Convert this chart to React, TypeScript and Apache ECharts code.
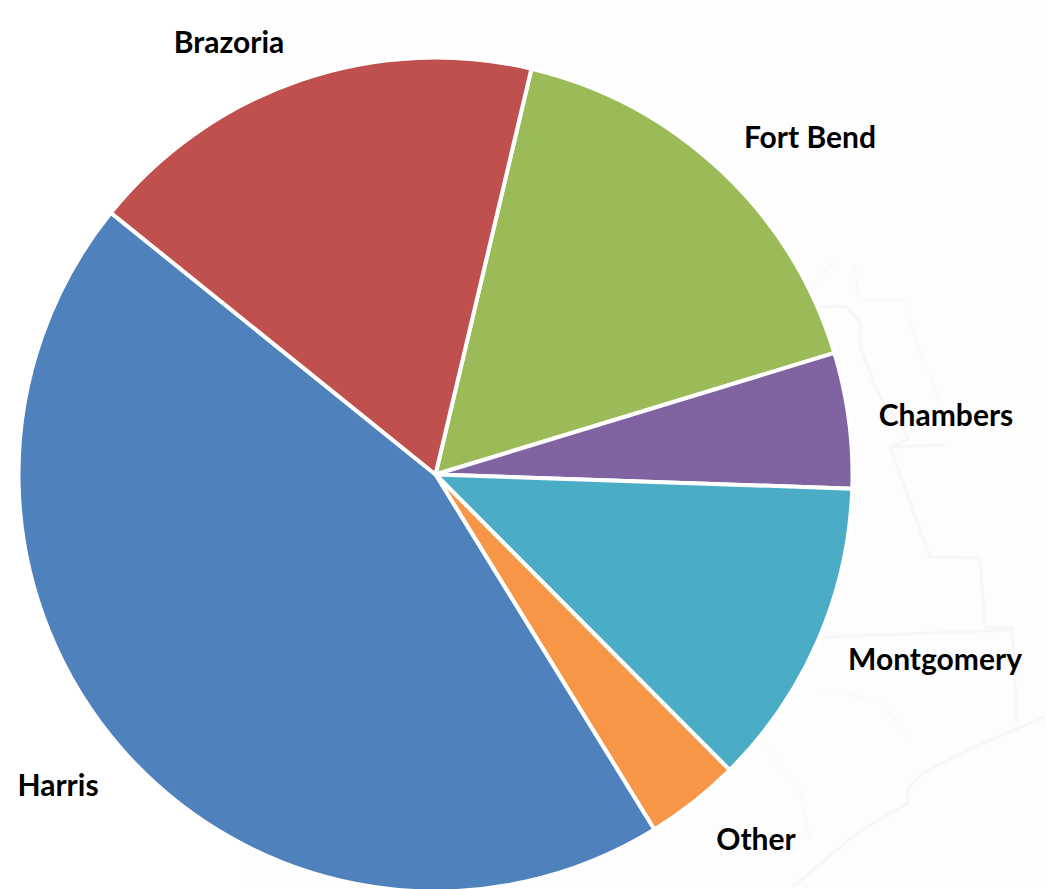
import React, { useEffect, useRef } from "react";
import * as echarts from "echarts";

const categories = ["Fort Bend", "Chambers", "Montgomery", "Other", "Harris", "Brazoria"];
const shares = [16.6, 5.25, 12.0, 3.67, 44.6, 17.9];
const colors = ["#9BBB59", "#8064A2", "#4BACC6", "#F79646", "#4F81BD", "#C0504D"];
const labelCentres = [
  [810, 136],
  [946, 414],
  [935, 658],
  [756, 838],
  [58, 784],
  [229, 41],
];
const mapLines = [
  [[820,308],[830,306],[847,307],[860,323],[860,347],[873,380],[880,397],[903,427],[908,440],[890,447],[930,557],[980,558],[983,600],[985,627],[1012,628],[1017,723]],
  [[890,447],[945,445]],
  [[823,637],[1012,630]],
  [[1045,717],[983,743],[923,773],[907,790],[908,803],[857,833],[793,887]],
];
const faintLines = [
  [[837,257],[810,290]],
  [[855,265],[858,300],[905,300],[915,340],[940,400]],
  [[760,740],[800,790],[810,840]],
  [[820,690],[880,700],[910,740]],
];

export default function App() {
  const ref = useRef<HTMLDivElement>(null);
  useEffect(() => {
    const chart = echarts.init(ref.current!, undefined, { renderer: "svg" });
    chart.setOption({
      animation: false,
      backgroundColor: "#ffffff",
      graphic: [
        { type: "rect", z: -3, silent: true, shape: { x: 240, y: 0, width: 805, height: 889 }, style: { fill: "#fdfdfd" } },
        ...faintLines.map((points) => ({
          type: "polyline",
          z: -2,
          silent: true,
          shape: { points },
          style: { stroke: "#fafafa", lineWidth: 2, fill: "none" },
        })),
        ...mapLines.map((points) => ({
          type: "polyline",
          z: -1,
          silent: true,
          shape: { points },
          style: { stroke: "#f7f7f7", lineWidth: 3, fill: "none" },
        })),
      ],
      series: [
        {
          type: "pie",
          center: [435.5, 474.5],
          radius: [0, 417],
          startAngle: 76.7,
          clockwise: true,
          avoidLabelOverlap: false,
          silent: true,
          data: categories.map((name, i) => ({
            name,
            value: shares[i],
            itemStyle: { color: colors[i] },
          })),
          itemStyle: { borderColor: "#ffffff", borderWidth: 4 },
          label: {
            show: true,
            position: "outside",
            formatter: "{b}",
            color: "#000000",
            fontFamily: "Lato",
            fontWeight: "bold",
            fontSize: 30,
          },
          labelLine: { show: false },
          labelLayout: (params: any) => ({
            x: labelCentres[params.dataIndex][0],
            y: labelCentres[params.dataIndex][1],
            align: "center",
            verticalAlign: "middle",
          }),
        },
      ],
    });
    return () => chart.dispose();
  }, []);
  return <div ref={ref} style={{ position: "absolute", left: 0, top: 0, width: 1045, height: 889, overflow: "hidden" }} />;
}
